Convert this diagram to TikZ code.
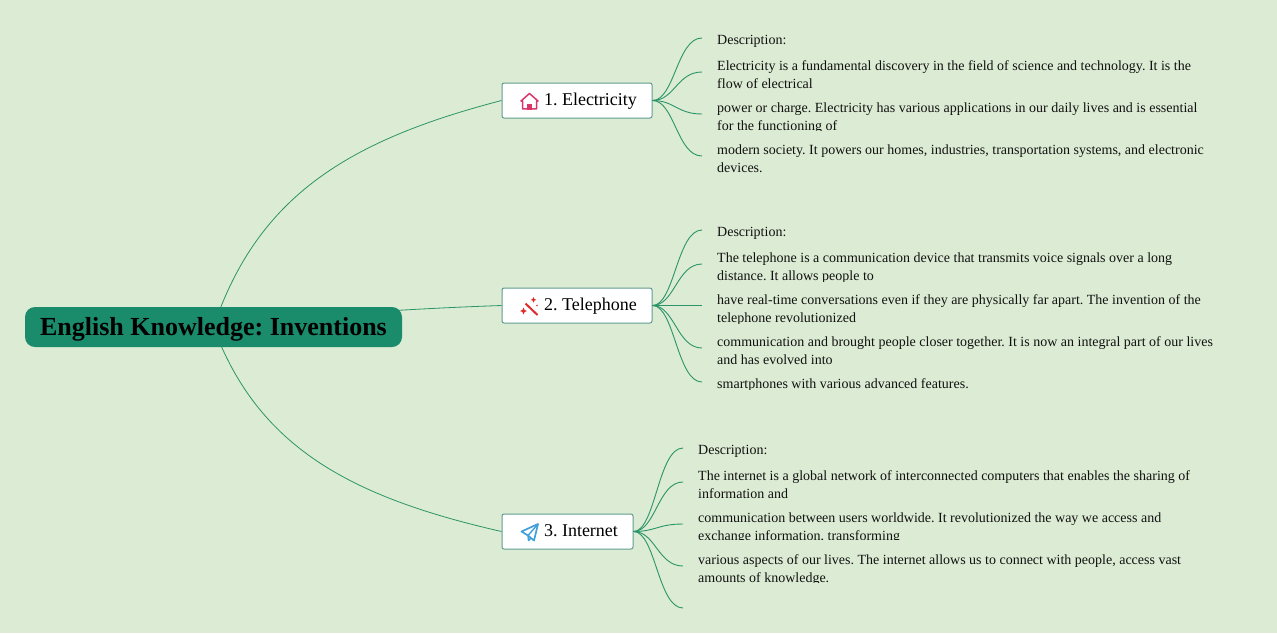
\documentclass[tikz,border=0pt]{standalone}
\usetikzlibrary{calc}
\usepackage{fontspec}
\setmainfont{Liberation Serif}
\frenchspacing
\definecolor{bgc}{HTML}{DCEBD3}
\definecolor{rootc}{HTML}{1A8B6B}
\definecolor{edgec}{HTML}{2B9468}
\definecolor{boxc}{HTML}{5F9C90}
\definecolor{txtc}{HTML}{111111}
\definecolor{housec}{HTML}{D9366A}
\definecolor{wandc}{HTML}{DD2C2C}
\definecolor{planec}{HTML}{3FA0DC}
\tikzset{
  rootnode/.style={rectangle,rounded corners=10pt,fill=rootc,minimum width=377pt,minimum height=40pt,inner sep=0pt,text height=20pt,text depth=4pt,font=\frenchspacing\fontsize{26}{30}\selectfont\bfseries,text=black},
  topicnode/.style={rectangle,rounded corners=2pt,draw=boxc,fill=white,line width=1pt,minimum height=35pt,inner sep=0pt,text height=13pt,text depth=3pt,font=\frenchspacing\fontsize{18}{22}\selectfont,text=black},
  para/.style={anchor=north west,inner sep=0pt,align=left,font=\frenchspacing\fontsize{14}{18}\selectfont,text=txtc},
  mainedge/.style={draw=edgec,line width=0.8pt},
  subedge/.style={draw=edgec,line width=0.9pt},
}
% \paratext{name}{x}{top}{clip bottom}{text}
\newcommand{\paratext}[5]{%
  \begin{scope}
    \clip (#2-2,#3-2) rectangle (#2+510,#4);
    \node[para] (#1) at (#2,#3) {#5};
  \end{scope}}
\begin{document}
\begin{tikzpicture}[x=1pt,y=-1pt]
\useasboundingbox (0,0) rectangle (1277,633);
\fill[bgc] (0,0) rectangle (1277,633);

\coordinate (rc) at (213.5,327);
\node[topicnode,minimum width=150pt] (t1) at (577,100.5) {\makebox[150pt][l]{\hspace{42pt}1. Electricity}};
\node[topicnode,minimum width=150pt] (t2) at (577,305.5) {\makebox[150pt][l]{\hspace{42pt}2. Telephone}};
\node[topicnode,minimum width=131pt] (t3) at (567.5,531.5) {\makebox[131pt][l]{\hspace{42pt}3. Internet}};

\draw[mainedge] (rc) .. controls (258,195) and (350,140) .. (t1.west);
\draw[mainedge] (rc) .. controls (300,316) and (400,309) .. (t2.west);
\draw[mainedge] (rc) .. controls (258,447) and (350,497) .. (t3.west);

\node[rootnode] (root) at (rc) {English Knowledge: Inventions};

% branch ends
\coordinate (e11) at (702,38);
\coordinate (e12) at (702,72);
\coordinate (e13) at (702,114);
\coordinate (e14) at (702,156);
\coordinate (e21) at (702,230);
\coordinate (e22) at (702,264);
\coordinate (e23) at (702,305.5);
\coordinate (e24) at (702,348);
\coordinate (e25) at (702,382);
\coordinate (e31) at (683,448);
\coordinate (e32) at (683,482);
\coordinate (e33) at (683,524);
\coordinate (e34) at (683,566);
\coordinate (e35) at (683,608);

\foreach \e in {e11,e12,e13,e14}
  \draw[subedge] (t1.east) .. controls +(22,0) and ($(\e)+(-25,0)$) .. (\e);
\foreach \e in {e21,e22,e23,e24,e25}
  \draw[subedge] (t2.east) .. controls +(22,0) and ($(\e)+(-25,0)$) .. (\e);
\foreach \e in {e31,e32,e33,e34,e35}
  \draw[subedge] (t3.east) .. controls +(22,0) and ($(\e)+(-25,0)$) .. (\e);

% texts
\paratext{p11}{717}{35}{52}{Description:}
\paratext{p12}{717}{60.5}{94}{Electricity is a fundamental discovery in the field of science and technology. It is the\\flow of electrical}
\paratext{p13}{717}{102.5}{130.5}{power or charge. Electricity has various applications in our daily lives and is essential\\for the functioning of}
\paratext{p14}{717}{144.5}{178}{modern society. It powers our homes, industries, transportation systems, and electronic\\devices.}
\paratext{p21}{717}{227}{244}{Description:}
\paratext{p22}{717}{252.5}{281.5}{The telephone is a communication device that transmits voice signals over a long\\distance. It allows people to}
\paratext{p23}{717}{294.5}{323.5}{have real-time conversations even if they are physically far apart. The invention of the\\telephone revolutionized}
\paratext{p24}{717}{336.5}{365.5}{communication and brought people closer together. It is now an integral part of our lives\\and has evolved into}
\paratext{p25}{717}{378.5}{389.5}{smartphones with various advanced features.}
\paratext{p31}{698}{445}{462}{Description:}
\paratext{p32}{698}{470.5}{504}{The internet is a global network of interconnected computers that enables the sharing of\\information and}
\paratext{p33}{698}{512.5}{539.5}{communication between users worldwide. It revolutionized the way we access and\\exchange information, transforming}
\paratext{p34}{698}{554.5}{582.5}{various aspects of our lives. The internet allows us to connect with people, access vast\\amounts of knowledge.}

% icon: house
\draw[housec,line width=1.5pt,line join=round] (521,101) -- (529.5,93.5) -- (538,101) -- (536.5,101) -- (536.5,108.8) -- (522.5,108.8) -- (522.5,101) -- cycle;
\fill[housec] (527,103.5) rectangle (532,109.5);
% icon: wand
\draw[wandc,line width=2pt] (525.5,303.5) -- (537.5,315);
\fill[wandc] (533.5,297) -- (534.4,299) -- (536.4,299.8) -- (534.4,300.6) -- (533.5,302.6) -- (532.6,300.6) -- (530.6,299.8) -- (532.6,299) -- cycle;
\fill[wandc] (523.5,307.5) -- (524.6,310) -- (527,311) -- (524.6,312) -- (523.5,314.5) -- (522.4,312) -- (520,311) -- (522.4,310) -- cycle;
\fill[wandc] (537,305.5) circle (0.9pt);
% icon: plane
\draw[planec,line width=1.7pt,line join=round] (521.5,531.5) -- (538,524) -- (534,540.5) -- (528,535.5) -- cycle;
\draw[planec,line width=1.4pt,line join=round] (528,535.5) -- (528.5,540.5) -- (531,538) (528,535.5) -- (538,524);
\end{tikzpicture}
\end{document}
